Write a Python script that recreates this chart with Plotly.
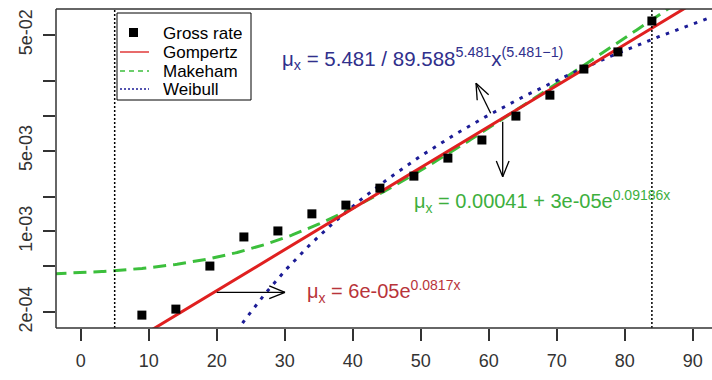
import numpy as np
import plotly.graph_objects as go

# ---- data ----
ages = [9, 14, 19, 24, 29, 34, 39, 44, 49, 54, 59, 64, 69, 74, 79, 84]
gross_rate = [1.89e-4, 2.13e-4, 5.02e-4, 8.96e-4, 1.01e-3, 1.42e-3, 1.69e-3, 2.37e-3,
              3.01e-3, 4.31e-3, 6.18e-3, 9.95e-3, 1.51e-2, 2.54e-2, 3.57e-2, 6.61e-2]
age_bounds = [5, 84]

# fitted model parameters (as printed on the chart)
gomp_b, gomp_c = 6e-05, 0.0817
make_a, make_b, make_c = 0.00041, 3e-05, 0.09186
weib_k, weib_lam = 5.481, 89.588

y_all_ticks = [2e-4, 5e-4, 1e-3, 2e-3, 5e-3, 1e-2, 2e-2, 5e-2]
y_label_vals = [2e-4, 1e-3, 5e-3, 5e-2]
y_label_text = ["2e-04", "1e-03", "5e-03", "5e-02"]
x_tickvals = [0, 10, 20, 30, 40, 50, 60, 70, 80, 90]

# ---- model curves ----
xg = np.linspace(-4, 94, 400)
gompertz = gomp_b * np.exp(gomp_c * xg)
makeham = make_a + make_b * np.exp(make_c * xg)
xw = np.linspace(15, 94, 300)
weibull = weib_k / weib_lam ** weib_k * xw ** (weib_k - 1)

FONT = "Liberation Sans, Arial, sans-serif"
RED = "#e02020"
GREEN = "#3cbf3c"
BLUE = "#1c1c96"

# pixel geometry of plot area
L, T, W, H = 56, 9, 656, 319
def px(x):
    return (x - L) / W
def py(y):
    return (T + H - y) / H

fig = go.Figure()
fig.add_trace(go.Scatter(x=xg, y=makeham, mode="lines",
                         line=dict(color=GREEN, width=3, dash="13px,7px"), name="Makeham"))
fig.add_trace(go.Scatter(x=xw, y=weibull, mode="lines",
                         line=dict(color=BLUE, width=3, dash="3.5px,6.5px"), name="Weibull"))
fig.add_trace(go.Scatter(x=xg, y=gompertz, mode="lines",
                         line=dict(color=RED, width=3), name="Gompertz"))
fig.add_trace(go.Scatter(x=ages, y=gross_rate, mode="markers",
                         marker=dict(symbol="square", size=9, color="black"), name="Gross rate"))

shapes = []
# vertical dotted bounds
for b in age_bounds:
    shapes.append(dict(type="line", xref="x", yref="paper", x0=b, x1=b, y0=0, y1=1,
                       line=dict(color="black", width=1.5, dash="2px,2px")))
# box (left, top, bottom)
for (x0, y0, x1, y1) in [(L, T, L, T + H), (L, T, 712, T), (L, T + H, 712, T + H)]:
    shapes.append(dict(type="line", xref="paper", yref="paper",
                       x0=px(x0), y0=py(y0), x1=px(x1), y1=py(y1),
                       line=dict(color="#333333", width=1.5)))

# legend
shapes.append(dict(type="rect", xref="paper", yref="paper", x0=px(117), y0=py(13),
                   x1=px(251), y1=py(100), line=dict(color="black", width=1), fillcolor="white"))
shapes.append(dict(type="rect", xref="paper", yref="paper", x0=px(129), y0=py(28),
                   x1=px(138), y1=py(37), line=dict(color="black", width=0), fillcolor="black"))
for yy, col, dash in [(52, "#e03a3a", "solid"), (71, GREEN, "5px,4px"), (89, BLUE, "2px,2px")]:
    shapes.append(dict(type="line", xref="paper", yref="paper", x0=px(120), x1=px(149),
                       y0=py(yy), y1=py(yy), line=dict(color=col, width=1.5, dash=dash)))

# arrows (open heads)
def arrow(x0, y0, x1, y1, hl=17, ang=22):
    shapes.append(dict(type="line", xref="paper", yref="paper", x0=px(x0), y0=py(y0),
                       x1=px(x1), y1=py(y1), line=dict(color="black", width=1.3)))
    th = np.arctan2(y0 - y1, x0 - x1)
    for s in (-1, 1):
        a = th + s * np.radians(ang)
        hx, hy = x1 + hl * np.cos(a), y1 + hl * np.sin(a)
        shapes.append(dict(type="line", xref="paper", yref="paper", x0=px(x1), y0=py(y1),
                           x1=px(hx), y1=py(hy), line=dict(color="black", width=1.3)))

arrow(216.7, 292.3, 285, 292.3)
arrow(502.7, 121.7, 502.7, 176.7)
arrow(490.7, 113.3, 476, 83.3)

annotations = []
for yy, txt in [(33, "Gross rate"), (52, "Gompertz"), (71, "Makeham"), (89, "Weibull")]:
    annotations.append(dict(xref="paper", yref="paper", x=px(161), y=py(yy), text=txt,
                            showarrow=False, xanchor="left", yanchor="middle", height=18,
                            font=dict(family=FONT, size=17, color="black")))

annotations.append(dict(xref="paper", yref="paper", x=px(280), y=py(58),
                        text="μ<sub>x</sub> = 5.481 / 89.588<sup>5.481</sup>x<sup>(5.481−1)</sup>",
                        showarrow=False, xanchor="left", yanchor="middle",
                        font=dict(family=FONT, size=20.5, color="#30308c")))
annotations.append(dict(xref="paper", yref="paper", x=px(412), y=py(201),
                        text="μ<sub>x</sub> = 0.00041 + 3e-05e<sup>0.09186x</sup>",
                        showarrow=False, xanchor="left", yanchor="middle",
                        font=dict(family=FONT, size=20, color="#3daf3d")))
annotations.append(dict(xref="paper", yref="paper", x=px(305), y=py(291),
                        text="μ<sub>x</sub> = 6e-05e<sup>0.0817x</sup>",
                        showarrow=False, xanchor="left", yanchor="middle",
                        font=dict(family=FONT, size=20, color="#b8343a")))

fig.update_layout(
    width=712, height=380,
    margin=dict(l=L, r=0, t=T, b=380 - T - H),
    paper_bgcolor="white", plot_bgcolor="white",
    showlegend=False,
    shapes=shapes, annotations=annotations,
    font=dict(family=FONT, size=18, color="#333333"),
)
fig.update_xaxes(range=[-3.63, 92.84], tickvals=x_tickvals, ticks="outside", ticklen=12,
                 tickwidth=1.5, tickcolor="#333333", showgrid=False, zeroline=False,
                 showline=False, ticklabelstandoff=4,
                 tickfont=dict(family=FONT, size=18, color="#333333"))
fig.update_yaxes(type="log", range=[-3.835, -1.076], tickvals=y_label_vals, ticktext=y_label_text,
                 ticks="outside", ticklen=12, tickwidth=1.5, tickcolor="#333333",
                 minor=dict(tickvals=y_all_ticks, ticks="outside", ticklen=12, tickwidth=1.5,
                            tickcolor="#333333", showgrid=False),
                 showgrid=False, zeroline=False, showline=False, tickangle=-90,
                 ticklabelstandoff=4,
                 tickfont=dict(family=FONT, size=18, color="#333333"))

fig.write_html("out.html", config={"displayModeBar": False},
               post_script="document.body.style.margin='0';")
